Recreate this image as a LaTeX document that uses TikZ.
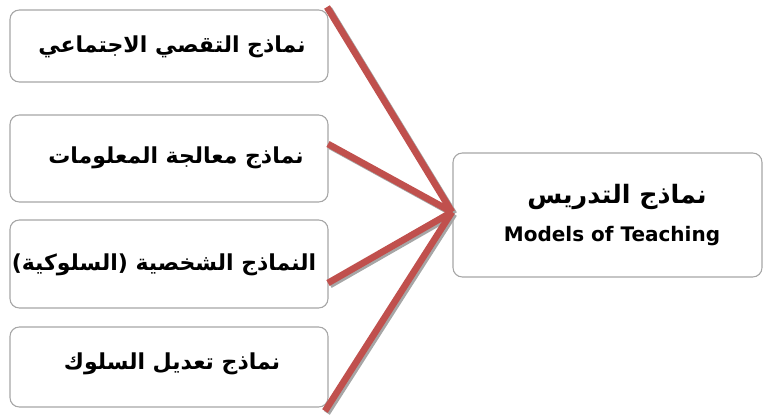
\documentclass[tikz,border=0pt]{standalone}
\usepackage{fontspec}
\setmainfont{DejaVu Sans}
\newfontfamily\arabicfont[Script=Arabic]{DejaVu Sans}
\TeXXeTstate=1
\definecolor{linkred}{HTML}{C0504D}
\definecolor{boxgray}{HTML}{A6A6A6}
\begin{document}
\begin{tikzpicture}[x=0.75pt,y=-0.75pt,
  box/.style={draw=boxgray,line width=0.8pt,rounded corners=7pt,fill=white},
  link/.style={linkred,line width=5pt},
  shadowlink/.style={gray!70,line width=5pt},
  lbl/.style={font=\arabicfont\bfseries\fontsize{16.5}{19}\selectfont,text=black}]
\useasboundingbox (0,0) rectangle (763,417);
% boxes
\draw[box] (10,10) rectangle (328,82);
\draw[box] (10,115) rectangle (328,202);
\draw[box] (10,220) rectangle (328,308);
\draw[box] (10,327) rectangle (328,407);
\draw[box] (453,153) rectangle (762,277);
\node[lbl] (t1) at (172,47) {\beginR نماذج التقصي الاجتماعي\endR};
\node[lbl] (t2) at (176,158) {\beginR نماذج معالجة المعلومات\endR};
\node[lbl] (t3) at (164,265) {\beginR النماذج الشخصية (السلوكية)\endR};
\node[lbl] (t4) at (172,364) {\beginR نماذج تعديل السلوك\endR};
\node[font=\arabicfont\bfseries\fontsize{19}{22}\selectfont] (m1) at (617,197) {\beginR نماذج التدريس\endR};
\node[font=\bfseries\fontsize{15}{18}\selectfont] (m2) at (612,236) {Models of Teaching};
% connectors
\coordinate (hub) at (452,212);
\coordinate (s1) at (327,7);
\coordinate (s2) at (328,144);
\coordinate (s3) at (328,283);
\coordinate (s4) at (325,411);
\foreach \s in {s1,s2,s3,s4}{
  \draw[shadowlink] ([shift={(2,2)}]\s) -- ([shift={(2,2)}]hub);
}
\foreach \s in {s1,s2,s3,s4}{
  \draw[link] (\s) -- (hub);
}
\end{tikzpicture}
\end{document}
